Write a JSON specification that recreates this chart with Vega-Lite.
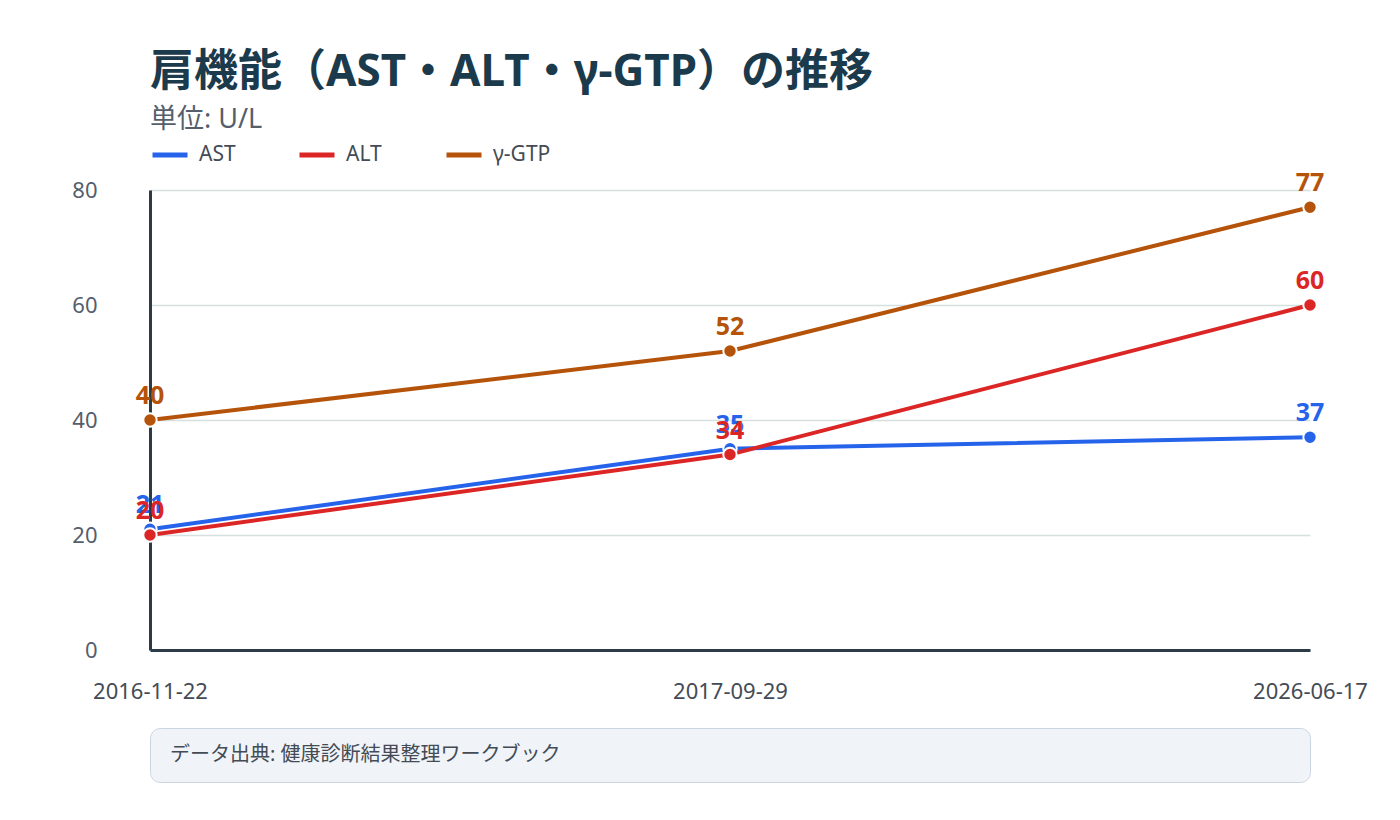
{
  "$schema": "https://vega.github.io/schema/vega-lite/v6.json",
  "background": "white",
  "padding": {"left": 70, "top": 51, "right": 20, "bottom": 10},
  "config": {"font": "Noto Sans, Noto Sans CJK JP", "view": {"stroke": null}},
  "datasets": {
    "main": [
      {"date": "2016-11-22", "series": "AST", "value": 21},
      {"date": "2017-09-29", "series": "AST", "value": 35},
      {"date": "2026-06-17", "series": "AST", "value": 37},
      {"date": "2016-11-22", "series": "ALT", "value": 20},
      {"date": "2017-09-29", "series": "ALT", "value": 34},
      {"date": "2026-06-17", "series": "ALT", "value": 60},
      {"date": "2016-11-22", "series": "γ-GTP", "value": 40},
      {"date": "2017-09-29", "series": "γ-GTP", "value": 52},
      {"date": "2026-06-17", "series": "γ-GTP", "value": 77}
    ],
    "note": [{"note": "データ出典: 健康診断結果整理ワークブック"}]
  },
  "spacing": 25,
  "resolve": {"legend": {"color": "independent"}},
  "vconcat": [
    {
      "width": 1160,
      "height": 460,
      "title": {
        "text": "肩機能（AST・ALT・γ-GTP）の推移",
        "subtitle": "単位: U/L",
        "anchor": "start",
        "frame": "group",
        "fontSize": 44,
        "fontWeight": "bold",
        "color": "#1b3a4b",
        "subtitleFontSize": 27,
        "subtitleColor": "#555e6b",
        "subtitlePadding": 12,
        "offset": 2
      },
      "data": {"name": "main"},
      "encoding": {
        "x": {
          "field": "date",
          "type": "ordinal",
          "scale": {"type": "point", "padding": 0},
          "axis": {
            "title": null,
            "labelAngle": 0,
            "domainColor": "#2d3a48",
            "domainWidth": 3,
            "ticks": false,
            "grid": false,
            "labelFontSize": 22,
            "labelColor": "#444b55",
            "labelPadding": 31,
            "minExtent": 50,
            "maxExtent": 50
          }
        },
        "y": {
          "field": "value",
          "type": "quantitative",
          "scale": {"domain": [0, 80]},
          "axis": {
            "title": null,
            "values": [0, 20, 40, 60, 80],
            "domainColor": "#2d3a48",
            "domainWidth": 3,
            "ticks": false,
            "gridColor": "#d5e0e0",
            "gridWidth": 1.5,
            "labelFontSize": 22,
            "labelColor": "#555e6b",
            "labelPadding": 53,
            "minExtent": 80,
            "maxExtent": 80
          }
        },
        "color": {
          "field": "series",
          "type": "nominal",
          "scale": {"domain": ["AST", "ALT", "γ-GTP"], "range": ["#2563eb", "#dc2626", "#b45309"]},
          "legend": {
            "title": null,
            "orient": "top",
            "direction": "horizontal",
            "symbolType": "stroke",
            "symbolStrokeWidth": 5,
            "symbolSize": 1225,
            "labelFontSize": 21,
            "labelColor": "#444b55",
            "labelOffset": 9,
            "gridAlign": "all",
            "columnPadding": 32,
            "offset": 25
          }
        }
      },
      "layer": [
        {"mark": {"type": "line", "strokeWidth": 4}},
        {"mark": {"type": "point", "filled": true, "size": 180, "stroke": "white", "strokeWidth": 2, "opacity": 1}},
        {
          "mark": {"type": "text", "dy": -24, "fontSize": 25, "fontWeight": "bold", "baseline": "middle"},
          "encoding": {"text": {"field": "value", "type": "quantitative"}}
        }
      ]
    },
    {
      "width": 1160,
      "height": 54,
      "data": {"name": "note"},
      "view": {"fill": "#f0f4f8", "stroke": "#cbd5e1", "strokeWidth": 1, "cornerRadius": 10},
      "mark": {"type": "text", "align": "left", "baseline": "middle", "fontSize": 20, "color": "#444b55"},
      "encoding": {"text": {"field": "note"}, "x": {"value": 20}}
    }
  ]
}
